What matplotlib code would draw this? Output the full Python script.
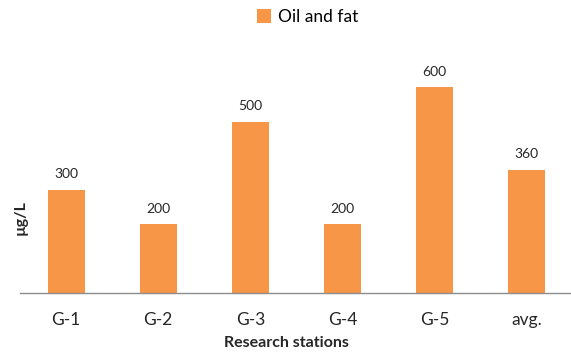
import matplotlib
matplotlib.use("Agg")
import matplotlib.pyplot as plt

stations = ["G-1", "G-2", "G-3", "G-4", "G-5", "avg."]
oil_and_fat = [300, 200, 500, 200, 600, 360]
value_labels = ["300", "200", "500", "200", "600", "360"]

plt.rcParams["font.family"] = ["Lato", "DejaVu Sans"]

W, H = 571, 353
fig = plt.figure(figsize=(W / 100, H / 100), dpi=100)
ax = fig.add_axes([20 / W, (H - 293) / H, 553 / W, (293 - 53) / H])

x = range(len(stations))
bars = ax.bar(x, oil_and_fat, width=0.4, color="#F79646", label="Oil and fat")
for rect, txt in zip(bars, value_labels):
    ax.annotate(txt, (rect.get_x() + rect.get_width() / 2, rect.get_height()),
                xytext=(0, 7), textcoords="offset points",
                ha="center", va="bottom", fontsize=10, color="#262626")

ax.set_xlim(-0.5, 5.5)
ax.set_ylim(0, 700)
ax.set_xticks(list(x))
ax.set_xticklabels(stations, fontsize=12.5, color="#262626")
ax.tick_params(axis="x", length=0, pad=14)
ax.set_yticks([])
for side in ("top", "right", "left"):
    ax.spines[side].set_visible(False)
ax.spines["bottom"].set_color("#8C8C8C")
ax.spines["bottom"].set_linewidth(1.0)

fig.text(286 / W, 1 - 343 / H, "Research stations", fontsize=11.5, fontweight="bold",
         color="#262626", ha="center", va="center")
fig.text(21 / W, 1 - 218 / H, "µg/L", fontsize=11.5, fontweight="bold",
         color="#262626", ha="center", va="center", rotation=90)

fig.legend(loc="center", bbox_to_anchor=(308 / W, 1 - 17 / H),
           frameon=False, fontsize=12.5, borderaxespad=0, borderpad=0,
           handlelength=0.8, handleheight=0.8, handletextpad=0.4)

fig.savefig("out.png", dpi=100, facecolor="white")
